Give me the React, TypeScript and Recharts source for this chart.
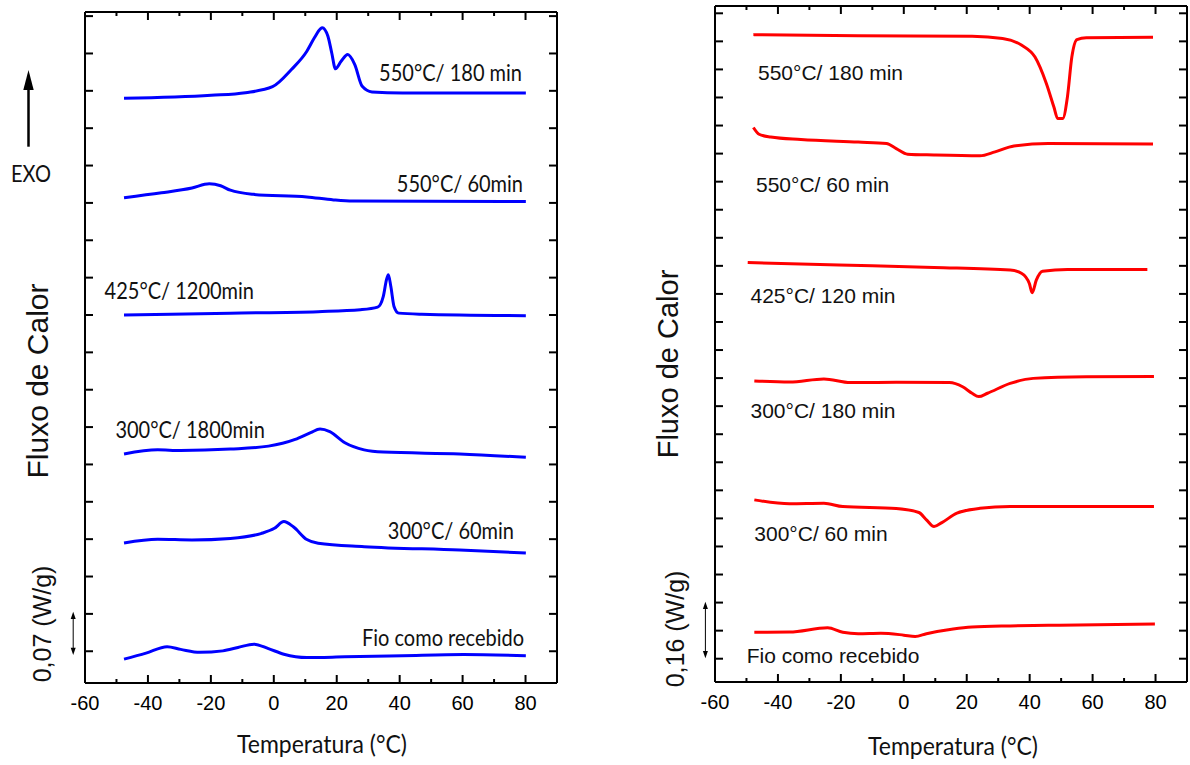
import React from 'react';
import { LineChart, Line, XAxis, YAxis } from 'recharts';

// ---------- axis ticks ----------
const xMajorTicks = [-60, -40, -20, 0, 20, 40, 60, 80];
const xAllTicks = [-60, -50, -40, -30, -20, -10, 0, 10, 20, 30, 40, 50, 60, 70, 80, 90];
const leftYTicks = [0, 1, 2, 3, 4, 5, 6, 7, 8, 9, 10, 11, 12, 13, 14, 15, 16, 17];
const rightYTicks = [0, 1, 2, 3, 4, 5, 6, 7, 8, 9, 10, 11, 12, 13, 14, 15, 16, 17, 18, 19, 20, 21, 22, 23];

// ---------- left panel (blue, heating) : temperature °C / heat flow (offset, tick units) ----------
const b550_180_T = [-47.6, -19.9, -9.0, -0.4, 5.6, 10.5, 12.9, 14.8, 15.4, 17.2, 18.4, 19.6, 21.4, 23.5, 25.7, 28.1, 31.2, 40.9, 80.1];
const b550_180_V = [14.80, 14.88, 14.95, 15.11, 15.57, 16.06, 16.42, 16.66, 16.69, 16.46, 16.02, 15.59, 15.79, 15.97, 15.71, 15.12, 14.97, 14.94, 14.94];

const b550_60_T = [-47.6, -35.7, -26.0, -20.5, -16.9, -13.8, -6.5, 10.5, 19.0, 25.1, 80.1];
const b550_60_V = [12.14, 12.27, 12.40, 12.51, 12.46, 12.34, 12.23, 12.16, 12.08, 12.05, 12.04];

const b425_1200_T = [-47.6, -13.8, 14.1, 27.5, 33.0, 34.8, 35.8, 36.4, 37.2, 38.2, 39.7, 47.0, 80.1];
const b425_1200_V = [9.00, 9.05, 9.09, 9.14, 9.21, 9.50, 9.94, 10.08, 9.76, 9.23, 9.05, 9.02, 8.98];

const b300_1800_T = [-47.6, -36.9, -29.6, -13.8, -1.7, 6.8, 11.7, 14.7, 17.8, 22.6, 28.7, 34.8, 59.1, 80.1];
const b300_1800_V = [5.28, 5.39, 5.37, 5.41, 5.49, 5.67, 5.85, 5.95, 5.88, 5.58, 5.39, 5.33, 5.28, 5.19];

const b300_60_T = [-47.6, -36.9, -26.0, -13.8, -4.1, 0.2, 3.2, 6.2, 10.5, 14.1, 28.7, 59.1, 80.1];
const b300_60_V = [2.90, 3.00, 2.98, 3.02, 3.15, 3.29, 3.47, 3.33, 2.99, 2.89, 2.80, 2.71, 2.63];

const bFio_T = [-47.6, -40.6, -33.9, -29.6, -23.5, -16.2, -11.4, -6.3, -1.7, 3.2, 10.5, 22.6, 40.9, 60.3, 80.1];
const bFio_V = [-0.21, -0.05, 0.12, 0.05, -0.03, 0.01, 0.10, 0.19, 0.07, -0.08, -0.17, -0.15, -0.12, -0.09, -0.12];

// ---------- right panel (red, cooling) ----------
const r550_180_T = [-47.8, -14.5, 21.7, 31.4, 37.5, 41.7, 45.3, 47.7, 48.9, 50.5, 52.0, 53.4, 55.0, 58.0, 79.2];
const r550_180_V = [22.24, 22.20, 22.18, 22.10, 21.86, 21.44, 20.50, 19.66, 19.25, 19.25, 20.02, 21.44, 22.06, 22.13, 22.15];

const r550_60_T = [-47.8, -46.0, -42.3, -32.7, -14.5, -5.5, -2.4, 1.2, 9.6, 24.2, 29.0, 35.0, 45.9, 79.2];
const r550_60_V = [18.93, 18.69, 18.59, 18.50, 18.41, 18.36, 18.18, 17.98, 17.95, 17.92, 18.06, 18.27, 18.36, 18.34];

const r425_120_T = [-49.6, -20.6, 9.6, 33.8, 37.5, 39.9, 40.8, 42.1, 44.1, 52.0, 77.4];
const r425_120_V = [14.12, 14.03, 13.94, 13.85, 13.73, 13.37, 13.04, 13.49, 13.81, 13.87, 13.87];

const r300_180_T = [-47.5, -36.3, -25.4, -17.0, -2.4, 14.5, 18.7, 21.7, 23.8, 26.6, 33.8, 41.1, 58.0, 79.5];
const r300_180_V = [9.90, 9.86, 9.97, 9.84, 9.85, 9.84, 9.69, 9.46, 9.34, 9.46, 9.81, 9.99, 10.05, 10.06];

const r300_60_T = [-47.5, -36.3, -25.4, -19.4, -2.4, 4.8, 7.2, 9.6, 12.1, 16.9, 24.2, 33.8, 79.5];
const r300_60_V = [5.66, 5.52, 5.54, 5.42, 5.35, 5.21, 4.95, 4.71, 4.85, 5.19, 5.36, 5.42, 5.42];

const rFio_T = [-47.5, -36.3, -24.2, -19.4, -14.5, -7.3, 0.0, 3.6, 7.2, 15.7, 21.7, 33.8, 45.9, 79.8];
const rFio_V = [0.94, 0.95, 1.10, 0.94, 0.89, 0.91, 0.84, 0.79, 0.89, 1.06, 1.13, 1.17, 1.19, 1.24];

const zip = (t: number[], v: number[]) => t.map((x, i) => ({ t: x, v: v[i] }));

const leftSeries = [
  zip(b550_180_T, b550_180_V),
  zip(b550_60_T, b550_60_V),
  zip(b425_1200_T, b425_1200_V),
  zip(b300_1800_T, b300_1800_V),
  zip(b300_60_T, b300_60_V),
  zip(bFio_T, bFio_V),
];
const rightSeries = [
  zip(r550_180_T, r550_180_V),
  zip(r550_60_T, r550_60_V),
  zip(r425_120_T, r425_120_V),
  zip(r300_180_T, r300_180_V),
  zip(r300_60_T, r300_60_V),
  zip(rFio_T, rFio_V),
];

const axisLine = { stroke: '#000', strokeWidth: 2 };
const tickLine = { stroke: '#000', strokeWidth: 2 };
const empty = () => '';
const sansL = 'Lato, Calibri, sans-serif';
const sansA = 'Liberation Sans, Arial, sans-serif';

function BottomTick(props: any) {
  const { x, y, payload } = props;
  const val = payload.value as number;
  const major = xMajorTicks.includes(val);
  return (
    <g>
      <line x1={x} y1={y} x2={x} y2={y - (major ? 8 : 4)} stroke="#000" strokeWidth={2} />
      {major && (
        <text x={x} y={y + 27} textAnchor="middle" fill="#000" fontSize={20} fontFamily={sansA}>{val}</text>
      )}
    </g>
  );
}
function TopTick(props: any) {
  const { x, y, payload } = props;
  const major = xMajorTicks.includes(payload.value as number);
  return <line x1={x} y1={y} x2={x} y2={y + (major ? 8 : 4)} stroke="#000" strokeWidth={2} />;
}

type PanelProps = {
  left: number;
  width: number;
  plot: { x0: number; x1: number; y0: number; y1: number };
  series: { t: number; v: number }[][];
  color: string;
  yDomain: [number, number];
  yTicks: number[];
};

function Panel({ left, width, plot, series, color, yDomain, yTicks }: PanelProps) {
  const margin = {
    top: plot.y0 - 1,
    bottom: 765 - plot.y1 - 1,
    left: plot.x0 - left - 1,
    right: left + width - plot.x1 - 1,
  };
  return (
    <div style={{ position: 'absolute', left, top: 0, width }}>
      <LineChart width={width} height={765} margin={margin}>
        <XAxis xAxisId="main" dataKey="t" type="number" domain={[-60, 90]} ticks={xAllTicks} interval={0}
          allowDataOverflow height={1} tickSize={0} tickMargin={0} axisLine={axisLine} tickLine={false}
          tick={<BottomTick />} />
        <XAxis xAxisId="top" orientation="top" dataKey="t" type="number" domain={[-60, 90]} ticks={xAllTicks} interval={0}
          allowDataOverflow height={1} tickSize={0} tickMargin={0} axisLine={axisLine} tickLine={false}
          tick={<TopTick />} />
        <YAxis yAxisId="l" type="number" domain={yDomain} ticks={yTicks} interval={0} allowDataOverflow width={1}
          tickSize={-8} tickFormatter={empty} axisLine={axisLine} tickLine={tickLine} />
        <YAxis yAxisId="r" orientation="right" type="number" domain={yDomain} ticks={yTicks} interval={0} allowDataOverflow width={1}
          tickSize={-8} tickFormatter={empty} axisLine={axisLine} tickLine={tickLine} />
        {series.map((d, i) => (
          <Line key={i} data={d} xAxisId="main" yAxisId="l" dataKey="v" type="monotone" stroke={color}
            strokeWidth={3} dot={false} activeDot={false} isAnimationActive={false} />
        ))}
      </LineChart>
    </div>
  );
}

const stretch = 'scale(1,1.15)';

export default function App() {
  return (
    <div style={{ position: 'fixed', left: 0, top: 0, width: 1190, height: 765, background: '#fff', overflow: 'hidden' }}>
      <Panel left={0} width={595} plot={{ x0: 85, x1: 557, y0: 12, y1: 683 }}
        series={leftSeries} color="#0000ff" yDomain={[-0.85, 17.11]} yTicks={leftYTicks} />
      <Panel left={595} width={595} plot={{ x0: 715, x1: 1187, y0: 6, y1: 682 }}
        series={rightSeries} color="#ff0000" yDomain={[-0.83, 23.26]} yTicks={rightYTicks} />
      <svg width={1190} height={765} style={{ position: 'absolute', left: 0, top: 0, pointerEvents: 'none' }}>
        {/* left panel annotations */}
        <g fontFamily={sansL} fontSize={20} fill="#111">
          <text transform={`translate(522,81) ${stretch}`} textAnchor="end">550°C/ 180 min</text>
          <text transform={`translate(523,192) ${stretch}`} textAnchor="end">550°C/ 60min</text>
          <text transform={`translate(104.6,299) ${stretch}`}>425°C/ 1200min</text>
          <text transform={`translate(115.4,438) ${stretch}`}>300°C/ 1800min</text>
          <text transform={`translate(514,539) ${stretch}`} textAnchor="end">300°C/ 60min</text>
          <text transform={`translate(524,646) ${stretch}`} textAnchor="end">Fio como recebido</text>
          <text transform={`translate(31,182) ${stretch}`} textAnchor="middle" fontSize={20}>EXO</text>
          <text transform={`translate(322,753) scale(1,1.08)`} textAnchor="middle" fontSize={23}>Temperatura (°C)</text>
        </g>
        <line x1={28.5} y1={146.7} x2={28.5} y2={86} stroke="#000" strokeWidth={2.5} />
        <polygon points="28.5,70 23.3,90 33.7,90" fill="#000" />
        <line x1={73.2} y1={617} x2={73.2} y2={650} stroke="#000" strokeWidth={1} />
        <polygon points="73.2,611.7 70.7,619 75.7,619" fill="#000" />
        <polygon points="73.2,655 70.7,647.7 75.7,647.7" fill="#000" />
        <text transform="translate(48.4,381) rotate(-90)" textAnchor="middle" fontFamily={sansA} fontSize={30} fill="#111">Fluxo de Calor</text>
        <text transform="translate(50.5,624) rotate(-90)" textAnchor="middle" fontFamily={sansA} fontSize={25} fill="#111">0,07 (W/g)</text>

        {/* right panel annotations */}
        <g fontFamily={sansA} fontSize={21} fill="#111">
          <text x={758} y={80}>550°C/ 180 min</text>
          <text x={756} y={192}>550°C/ 60 min</text>
          <text x={750.5} y={303}>425°C/ 120 min</text>
          <text x={750.5} y={418}>300°C/ 180 min</text>
          <text x={754.3} y={540.7}>300°C/ 60 min</text>
          <text x={746.7} y={662.7}>Fio como recebido</text>
        </g>
        <text transform="translate(953,755) scale(1,1.08)" textAnchor="middle" fontFamily={sansL} fontSize={23} fill="#111">Temperatura (°C)</text>
        <line x1={705.4} y1={607} x2={705.4} y2={653} stroke="#000" strokeWidth={1} />
        <polygon points="705.4,601.7 702.9,609 707.9,609" fill="#000" />
        <polygon points="705.4,658.3 702.9,651 707.9,651" fill="#000" />
        <text transform="translate(678,364) rotate(-90)" textAnchor="middle" fontFamily={sansA} fontSize={29} fill="#111">Fluxo de Calor</text>
        <text transform="translate(683.7,629) rotate(-90)" textAnchor="middle" fontFamily={sansA} fontSize={25} fill="#111">0,16 (W/g)</text>
      </svg>
    </div>
  );
}
